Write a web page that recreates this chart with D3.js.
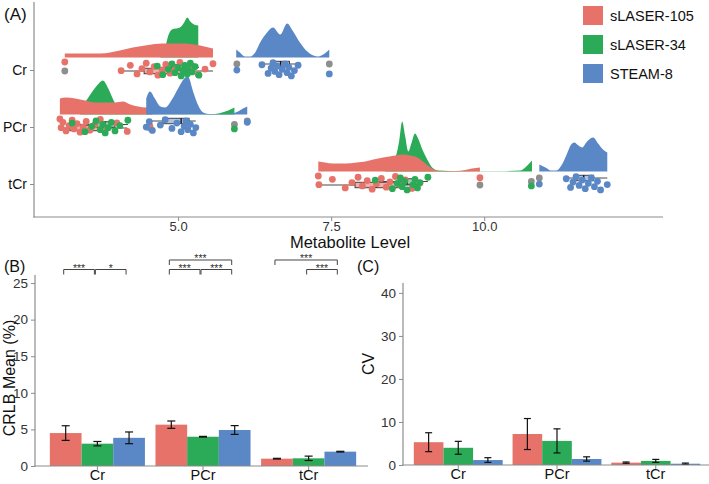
<!DOCTYPE html>
<html><head><meta charset="utf-8">
<script src="https://cdn.jsdelivr.net/npm/d3@7"></script>
<style>
body{margin:0;background:#fff}
svg{display:block}
text{font-family:"Liberation Sans",Arial,Helvetica,sans-serif}
</style>
</head><body>
<svg id="chart" width="709" height="484"></svg>
<script>
// ---------------- DATA ----------------
const groups = ["sLASER-105", "sLASER-34", "STEAM-8"];
const metabolites = ["Cr", "PCr", "tCr"];
const levelTicks = [5.0, 7.5, 10.0];

// Panel A raw metabolite levels (per subject)
const cr105   = [3.15,4.07,4.22,4.33,4.41,4.48,4.54,4.61,4.67,4.74,4.80,4.87,4.95,5.03,5.13,5.23,5.33,5.44,5.57];
const cr34    = [4.66,4.75,4.84,4.90,4.95,5.00,5.05,5.08,5.11,5.15,5.16,5.20,5.23,5.28,5.34];
const crSteam = [5.96,6.37,6.47,6.52,6.55,6.58,6.62,6.65,6.70,6.75,6.78,6.81,6.85,6.90,6.96,7.47];
const pcr105   = [3.07,3.09,3.12,3.17,3.22,3.27,3.30,3.35,3.40,3.45,3.50,3.56,3.64,3.73,3.84,4.00,4.17,4.54];
const pcr34    = [3.27,3.48,3.59,3.66,3.73,3.77,3.81,3.86,3.91,3.97,4.05,4.18,5.92];
const pcrSteam = [4.48,4.53,4.58,4.71,4.79,4.90,4.98,5.05,5.10,5.13,5.16,5.20,5.25,5.29,6.13];
const tcr105   = [7.29,7.30,7.52,7.73,7.84,7.94,8.01,8.09,8.17,8.24,8.32,8.40,8.46,8.55,8.63,8.71,8.82,8.95,9.93];
const tcr34    = [8.22,8.50,8.58,8.63,8.66,8.70,8.74,8.84,8.87,8.91,8.95,9.08,10.77];
const tcrSteam = [10.90,11.34,11.41,11.45,11.50,11.55,11.60,11.65,11.70,11.75,11.80,11.85,11.90,12.01];

// Panel A density outlines [level, relative density]
const crDens105 = [[3.15,.08],[3.48,.08],[3.73,.08],[3.89,.10],[4.05,.14],[4.26,.20],[4.46,.24],[4.62,.27],[4.87,.28],[5.11,.28],[5.36,.24],[5.57,.18]];
const crDens34 = [[4.71,.04],[4.79,.20],[4.84,.44],[4.90,.56],[5.03,.60],[5.10,.70],[5.15,.80],[5.20,.72],[5.26,.66],[5.33,.64]];
const crDensSteam = [[5.95,.16],[6.01,.10],[6.09,.02],[6.18,.02],[6.26,.10],[6.34,.30],[6.44,.48],[6.55,.60],[6.67,.46],[6.78,.68],[6.88,.52],[6.99,.30],[7.11,.12],[7.21,.04],[7.29,.02],[7.37,.06],[7.47,.16]];
const pcrDens105 = [[3.07,.32],[3.17,.34],[3.32,.32],[3.48,.28],[3.64,.24],[3.81,.24],[3.97,.24],[4.10,.26],[4.22,.20],[4.35,.16],[4.48,.14],[4.58,.14]];
const pcrDens34 = [[3.40,.16],[3.50,.28],[3.59,.44],[3.69,.60],[3.77,.68],[3.86,.52],[3.94,.30],[4.02,.12],[4.13,.04],[4.38,.01],[5.03,.006],[5.60,.01],[5.72,.04],[5.82,.08],[5.92,.14]];
const pcrDensSteam = [[4.48,.32],[4.54,.46],[4.62,.32],[4.71,.16],[4.79,.14],[4.90,.30],[5.00,.52],[5.10,.72],[5.16,.76],[5.25,.44],[5.33,.18],[5.41,.04],[5.52,.01],[5.77,.01],[5.88,.02],[5.98,.06],[6.06,.12],[6.13,.16]];
const tcrDens105 = [[7.29,.20],[7.40,.18],[7.53,.16],[7.73,.16],[7.92,.18],[8.06,.20],[8.19,.24],[8.35,.28],[8.55,.32],[8.68,.34],[8.79,.32],[8.91,.28],[9.00,.20],[9.08,.12],[9.18,.04],[9.28,.01],[9.53,.01],[9.69,.03],[9.80,.06],[9.93,.08]];
const tcrDens34 = [[8.38,.06],[8.50,.20],[8.56,.32],[8.61,.60],[8.66,1.00],[8.71,.70],[8.76,.40],[8.81,.56],[8.87,.76],[8.92,.66],[8.99,.44],[9.07,.24],[9.15,.08],[9.25,.02],[9.44,.01],[10.26,.006],[10.59,.02],[10.67,.08],[10.72,.14],[10.78,.22]];
const tcrDensSteam = [[10.90,.14],[11.00,.08],[11.09,.02],[11.18,.02],[11.26,.12],[11.34,.32],[11.42,.54],[11.47,.58],[11.54,.52],[11.60,.48],[11.68,.60],[11.78,.68],[11.86,.56],[11.94,.44],[12.01,.38]];

// Panel B: CRLB mean (%) with error
const crlbMean105   = [4.5, 5.65, 1.0];
const crlbErr105    = [1.0, 0.5, 0.05];
const crlbMean34    = [3.05, 4.0, 1.05];
const crlbErr34     = [0.3, 0.05, 0.3];
const crlbMeanSteam = [3.85, 4.92, 1.96];
const crlbErrSteam  = [0.8, 0.6, 0.05];
const crlbTicks = [0, 5, 10, 15, 20, 25];
// significance: [metabolite, groupA, groupB, bracket level, label]
const crlbSig = [["Cr",0,1,1,"***"],["Cr",1,2,1,"*"],["PCr",0,1,1,"***"],["PCr",1,2,1,"***"],["PCr",0,2,2,"***"],["tCr",1,2,1,"***"],["tCr",0,2,2,"***"]];

// Panel C: CV with error
const cv105      = [5.3, 7.2, 0.55];
const cvErr105   = [2.2, 3.6, 0.15];
const cv34       = [4.0, 5.6, 0.95];
const cvErr34    = [1.5, 2.8, 0.35];
const cvSteam    = [1.15, 1.4, 0.3];
const cvErrSteam = [0.55, 0.5, 0.15];
const cvTicks = [0, 10, 20, 30, 40];

// ---------------- STYLE ----------------
const colors = ["#E6726A", "#2BAB57", "#5A87C6"];
const boxFills = ["#EDB0AB", "#98D3AE", "#AFC3E3"];
const axisCol = "#8c8c8c";
const tickTextCol = "#333";

const svg = d3.select("#chart");

// ---------------- PANEL A ----------------
const pointSets = [[cr105, cr34, crSteam], [pcr105, pcr34, pcrSteam], [tcr105, tcr34, tcrSteam]];
const densSets = [[crDens105, crDens34, crDensSteam], [pcrDens105, pcrDens34, pcrDensSteam], [tcrDens105, tcrDens34, tcrDensSteam]];

const xA = d3.scaleLinear().domain([2.647, 12.92]).range([34, 663]);
const yA = d3.scalePoint().domain(metabolites).range([70, 184]);
const hA = d3.scaleLinear().domain([0, 1]).range([0, 50]);
const gA = svg.append("g");

// densities: draw order green, red, blue
const drawOrder = [1, 0, 2];
metabolites.forEach((m, mi) => {
  const base = yA(m) - 12.5;
  drawOrder.forEach(g => {
    const area = d3.area()
      .x(d => xA(d[0]))
      .y0(base)
      .y1(d => base - hA(d[1]))
      .curve(d3.curveMonotoneX);
    gA.append("path").attr("d", area(densSets[mi][g])).attr("fill", colors[g]);
  });
});

// boxplots + outliers
const boxOff = [1, -2.5, -6];
metabolites.forEach((m, mi) => {
  groups.forEach((grp, g) => {
    const vals = pointSets[mi][g].slice().sort(d3.ascending);
    const q1 = d3.quantile(vals, 0.25), med = d3.quantile(vals, 0.5), q3 = d3.quantile(vals, 0.75);
    const iqr = q3 - q1;
    const lo = d3.min(vals.filter(v => v >= q1 - 1.5 * iqr));
    const hi = d3.max(vals.filter(v => v <= q3 + 1.5 * iqr));
    const cy = yA(m) + boxOff[g];
    const bh = 5.5;
    gA.append("line").attr("x1", xA(lo)).attr("x2", xA(q1)).attr("y1", cy).attr("y2", cy).attr("stroke", "#333").attr("stroke-width", 0.9);
    gA.append("line").attr("x1", xA(q3)).attr("x2", xA(hi)).attr("y1", cy).attr("y2", cy).attr("stroke", "#333").attr("stroke-width", 0.9);
    gA.append("rect").attr("x", xA(q1)).attr("y", cy - bh / 2).attr("width", xA(q3) - xA(q1)).attr("height", bh)
      .attr("fill", boxFills[g]).attr("stroke", "#333").attr("stroke-width", 0.9);
    gA.append("line").attr("x1", xA(med)).attr("x2", xA(med)).attr("y1", cy - bh / 2).attr("y2", cy + bh / 2).attr("stroke", "#111").attr("stroke-width", 1.4);
    vals.filter(v => v < lo || v > hi).forEach(v => {
      gA.append("circle").attr("cx", xA(v)).attr("cy", cy).attr("r", 3.4).attr("fill", "#8e8e8e");
    });
  });
});

// jittered raw points
const jit = (i, g) => ((i * 0.6180339 + g * 0.29) % 1) - 0.5;
metabolites.forEach((m, mi) => {
  groups.forEach((grp, g) => {
    pointSets[mi][g].forEach((v, i) => {
      gA.append("circle").attr("cx", xA(v)).attr("cy", yA(m) - 1 + jit(i, g) * 14)
        .attr("r", 3.4).attr("fill", colors[g]);
    });
  });
});

// axes A
gA.append("line").attr("x1", 34).attr("x2", 34).attr("y1", 2).attr("y2", 217.5).attr("stroke", axisCol).attr("stroke-width", 1.2);
gA.append("line").attr("x1", 33.4).attr("x2", 663).attr("y1", 217).attr("y2", 217).attr("stroke", axisCol).attr("stroke-width", 1.2);
const xAxA = gA.append("g").attr("transform", "translate(0,217)")
  .call(d3.axisBottom(xA).tickValues(levelTicks).tickFormat(d3.format(".1f")).tickSize(4).tickSizeOuter(0));
xAxA.select(".domain").remove();
xAxA.selectAll("line").attr("stroke", axisCol);
xAxA.selectAll("text").attr("font-size", 13).attr("fill", tickTextCol).attr("dy", "0.55em").attr("font-family", null);
const yAxA = gA.append("g").attr("transform", "translate(34,0)")
  .call(d3.axisLeft(yA).tickSize(4).tickSizeOuter(0));
yAxA.select(".domain").remove();
yAxA.selectAll("line").attr("stroke", axisCol);
yAxA.selectAll("text").attr("font-size", 14).attr("fill", "#111").attr("font-family", null);
gA.append("text").attr("x", 350).attr("y", 248).attr("text-anchor", "middle").attr("font-size", 16.5).attr("fill", "#111").text("Metabolite Level");
svg.append("text").attr("x", 4).attr("y", 20).attr("font-size", 17).attr("fill", "#111").text("(A)");

// legend
groups.forEach((grp, g) => {
  const ly = [6, 35, 64][g];
  svg.append("rect").attr("x", 583).attr("y", ly).attr("width", 20).attr("height", 19).attr("fill", colors[g]);
  svg.append("text").attr("x", 610).attr("y", ly + 15).attr("font-size", 14.5).attr("fill", "#111").text(grp);
});

// ---------------- BAR PANELS ----------------
function barPanel(opts) {
  const { xRange, yDomainMax, yRange, axisX0, axisX1, means, errs, ticks, title, titleX, titleY, capHalf } = opts;
  const g = svg.append("g");
  const xB = d3.scaleBand().domain(metabolites).range(xRange).paddingInner(0.1).paddingOuter(0.15);
  const xs = d3.scaleBand().domain(groups).range([0, xB.bandwidth()]);
  const yB = d3.scaleLinear().domain([0, yDomainMax]).range(yRange);
  metabolites.forEach((m, mi) => {
    groups.forEach((grp, gi) => {
      const v = means[gi][mi];
      const x = xB(m) + xs(grp);
      g.append("rect").attr("x", x).attr("y", yB(v)).attr("width", xs.bandwidth()).attr("height", yB(0) - yB(v)).attr("fill", colors[gi]);
    });
  });
  metabolites.forEach((m, mi) => {
    groups.forEach((grp, gi) => {
      const v = means[gi][mi], e = errs[gi][mi];
      const cx = xB(m) + xs(grp) + xs.bandwidth() / 2;
      g.append("line").attr("x1", cx).attr("x2", cx).attr("y1", yB(v + e)).attr("y2", yB(v - e)).attr("stroke", "#111").attr("stroke-width", 1.2);
      [v + e, v - e].forEach(t => g.append("line").attr("x1", cx - capHalf).attr("x2", cx + capHalf).attr("y1", yB(t)).attr("y2", yB(t)).attr("stroke", "#111").attr("stroke-width", 1.2));
    });
  });
  // axes
  g.append("line").attr("x1", axisX0).attr("x2", axisX0).attr("y1", yRange[1]).attr("y2", yRange[0] + 0.5).attr("stroke", axisCol).attr("stroke-width", 1.2);
  g.append("line").attr("x1", axisX0 - 0.6).attr("x2", axisX1).attr("y1", yRange[0]).attr("y2", yRange[0]).attr("stroke", axisCol).attr("stroke-width", 1.2);
  const ya = g.append("g").attr("transform", `translate(${axisX0},0)`).call(d3.axisLeft(yB).tickValues(ticks).tickSize(4).tickSizeOuter(0));
  ya.select(".domain").remove();
  ya.selectAll("line").attr("stroke", axisCol);
  ya.selectAll("text").attr("font-size", 13.5).attr("fill", tickTextCol).attr("font-family", null);
  const xa = g.append("g").attr("transform", `translate(0,${yRange[0]})`).call(d3.axisBottom(xB).tickSize(4).tickSizeOuter(0));
  xa.select(".domain").remove();
  xa.selectAll("line").attr("stroke", axisCol);
  xa.selectAll("text").attr("font-size", 14.5).attr("fill", "#111").attr("dy", "0.45em").attr("font-family", null);
  g.append("text").attr("transform", `translate(${titleX},${titleY}) rotate(-90)`).attr("text-anchor", "middle").attr("font-size", 16).attr("fill", "#111").text(title);
  return { g, xB, xs, yB };
}

const pB = barPanel({
  xRange: [34, 372], yDomainMax: 26.1, yRange: [466, 275], axisX0: 35, axisX1: 368,
  means: [crlbMean105, crlbMean34, crlbMeanSteam], errs: [crlbErr105, crlbErr34, crlbErrSteam],
  ticks: crlbTicks, title: "CRLB Mean (%)", titleX: 15, titleY: 378, capHalf: 4
});
svg.append("text").attr("x", 4).attr("y", 272).attr("font-size", 16).attr("fill", "#111").text("(B)");

// significance brackets
const sigLevels = { 1: 26.85, 2: 28.15 };
crlbSig.forEach(([m, a, b, lvl, lab]) => {
  const ca = pB.xB(m) + pB.xs(groups[a]) + pB.xs.bandwidth() / 2 - 2;
  const cb = pB.xB(m) + pB.xs(groups[b]) + pB.xs.bandwidth() / 2 - 3;
  const y = pB.yB(sigLevels[lvl]);
  pB.g.append("path").attr("d", `M${ca},${y + 5}V${y}H${cb}V${y + 5}`).attr("fill", "none").attr("stroke", "#444").attr("stroke-width", 1);
  pB.g.append("text").attr("x", (ca + cb) / 2).attr("y", y + 2.5).attr("text-anchor", "middle").attr("font-size", 10.5).attr("fill", "#333").text(lab);
});

const pC = barPanel({
  xRange: [399, 715], yDomainMax: 42.3, yRange: [465, 283], axisX0: 403, axisX1: 709,
  means: [cv105, cv34, cvSteam], errs: [cvErr105, cvErr34, cvErrSteam],
  ticks: cvTicks, title: "CV", titleX: 374, titleY: 364, capHalf: 3.5
});
svg.append("text").attr("x", 357).attr("y", 272).attr("font-size", 16).attr("fill", "#111").text("(C)");
</script>
</body></html>
